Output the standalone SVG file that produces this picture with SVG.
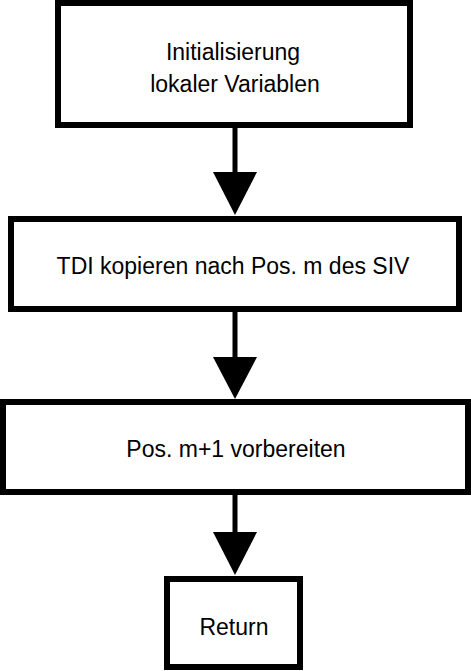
<svg xmlns="http://www.w3.org/2000/svg" width="471" height="671" viewBox="0 0 471 671">
<style>
.box{fill:#fff;stroke:#000;stroke-width:6}
.t{font-family:"Liberation Sans",Arial,sans-serif;font-size:23px;fill:#000;text-anchor:middle}
.ln{stroke:#000;stroke-width:5;fill:none}
.ah{fill:#000}
</style>
<rect width="471" height="671" fill="#fff"/>
<g id="n1"><rect class="box" x="58" y="3" width="352" height="122"/><text class="t" x="233" y="60">Initialisierung</text><text class="t" x="235" y="92">lokaler Variablen</text></g>
<g id="n2"><rect class="box" x="11" y="219" width="448" height="90"/><text class="t" x="233" y="274">TDI kopieren nach Pos. m des SIV</text></g>
<g id="n3"><rect class="box" x="3" y="402" width="465" height="90"/><text class="t" x="236" y="457">Pos. m+1 vorbereiten</text></g>
<g id="n4"><rect class="box" x="167" y="579" width="133" height="88"/><text class="t" x="234" y="635">Return</text></g>
<g id="connectors">
<line class="ln" x1="235" y1="128" x2="235" y2="174"/><polygon class="ah" points="213,172 257,172 235,215"/>
<line class="ln" x1="235" y1="312" x2="235" y2="358"/><polygon class="ah" points="213,357 257,357 235,399"/>
<line class="ln" x1="235" y1="495" x2="235" y2="533"/><polygon class="ah" points="213,532 257,532 235,575"/>
</g>
</svg>
